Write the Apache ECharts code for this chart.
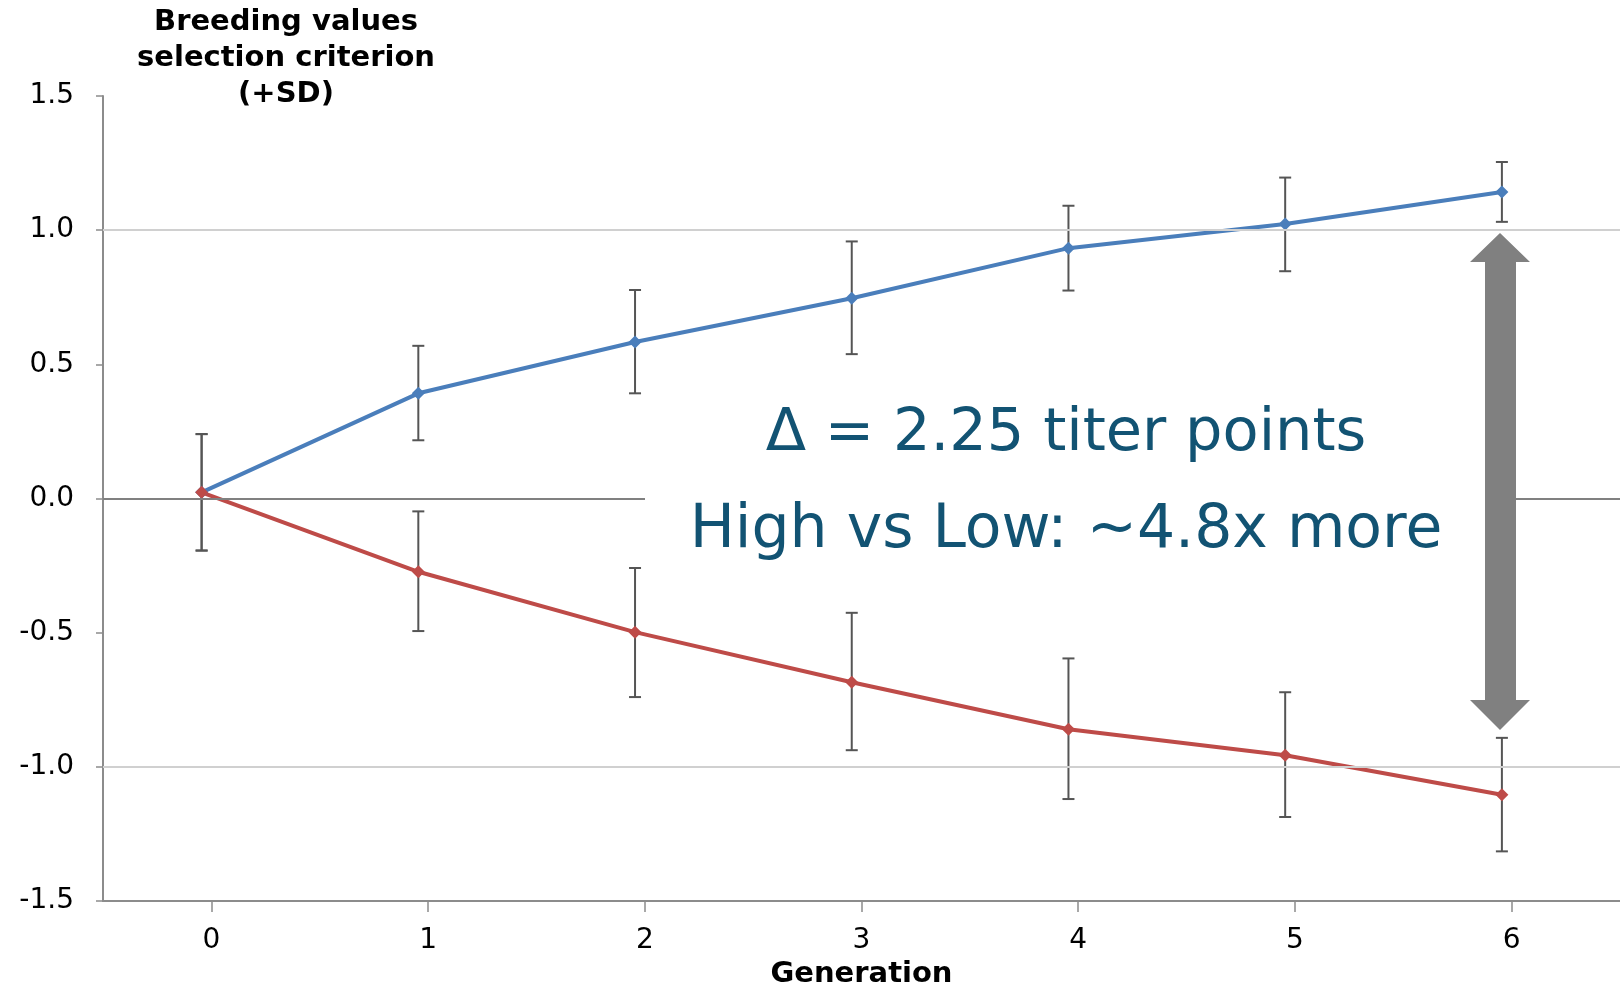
<!DOCTYPE html>
<html>
<head>
<meta charset="utf-8">
<title>Breeding values selection criterion</title>
<script src="https://cdn.jsdelivr.net/npm/echarts@6/dist/echarts.min.js"></script>
<style>
  html, body { margin: 0; padding: 0; background: #fff; }
  #chart { width: 1620px; height: 987px; }
</style>
</head>
<body>
<div id="chart"></div>
<script>
// generations on the axis, and where the points actually sit (a bit left of each tick)
const generations = [0, 1, 2, 3, 4, 5, 6];
const pointX = [-0.045, 0.955, 1.955, 2.955, 3.955, 4.955, 5.955];

// high line (blue): mean, +SD, -SD
const highMean  = [0.023, 0.392, 0.583, 0.746, 0.933, 1.023, 1.142];
const highUpper = [0.240, 0.569, 0.777, 0.958, 1.091, 1.196, 1.254];
const highLower = [-0.194, 0.217, 0.392, 0.538, 0.775, 0.847, 1.031];

// low line (red)
const lowMean  = [0.023, -0.273, -0.498, -0.685, -0.860, -0.957, -1.104];
const lowUpper = [0.240, -0.048, -0.259, -0.426, -0.596, -0.722, -0.892];
const lowLower = [-0.194, -0.494, -0.740, -0.938, -1.120, -1.187, -1.315];

const FONT = 'Verdana, "DejaVu Sans", sans-serif';
const BLUE = '#4a7ebb';
const RED = '#be4b48';
const TEXT_BLUE = '#125373';

const chart = echarts.init(document.getElementById('chart'));

// error bar drawn as a vertical line with caps
function errorBars(name, upper, lower) {
  return {
    name: name,
    type: 'custom',
    z: 1,
    silent: true,
    data: pointX.map((x, i) => [x, lower[i], upper[i]]),
    encode: { x: 0, y: [1, 2] },
    renderItem: function (params, api) {
      const lo = api.coord([api.value(0), api.value(1)]);
      const hi = api.coord([api.value(0), api.value(2)]);
      const cap = 6;
      const style = { stroke: '#555555', lineWidth: 2 };
      return {
        type: 'group',
        children: [
          { type: 'line', shape: { x1: lo[0], y1: lo[1], x2: hi[0], y2: hi[1] }, style: style },
          { type: 'line', shape: { x1: lo[0] - cap, y1: lo[1], x2: lo[0] + cap, y2: lo[1] }, style: style },
          { type: 'line', shape: { x1: hi[0] - cap, y1: hi[1], x2: hi[0] + cap, y2: hi[1] }, style: style }
        ]
      };
    }
  };
}

function lineSeries(name, values, color) {
  return {
    name: name,
    type: 'line',
    z: 3,
    data: pointX.map((x, i) => [x, values[i]]),
    symbol: 'diamond',
    symbolSize: 13,
    showSymbol: true,
    itemStyle: { color: color },
    lineStyle: { color: color, width: 4 }
  };
}

const high = lineSeries('High', highMean, BLUE);
// reference lines at +1, 0, -1
high.markLine = {
  silent: true,
  symbol: 'none',
  label: { show: false },
  data: [
    { yAxis: 1, lineStyle: { color: '#d0d0d0', width: 2, type: 'solid' } },
    { yAxis: -1, lineStyle: { color: '#d0d0d0', width: 2, type: 'solid' } },
    { yAxis: 0, lineStyle: { color: '#808080', width: 2, type: 'solid' } }
  ]
};

chart.setOption({
  animation: false,
  grid: { left: 103, right: 0, top: 96, bottom: 86, outerBoundsMode: 'none' },
  xAxis: {
    type: 'value',
    min: -0.5,
    max: 6.5,
    name: 'Generation',
    nameLocation: 'middle',
    nameGap: 58,
    nameTextStyle: { fontFamily: FONT, fontWeight: 'bold', fontSize: 29, color: '#000' },
    axisLine: { show: true, onZero: false, lineStyle: { color: '#8c8c8c', width: 2 } },
    axisTick: { show: true, length: 11, customValues: generations, lineStyle: { color: '#8c8c8c', width: 1.5 } },
    axisLabel: { customValues: generations, margin: 26, fontFamily: FONT, fontSize: 28, color: '#000' },
    splitLine: { show: false }
  },
  yAxis: {
    type: 'value',
    min: -1.5,
    max: 1.5,
    interval: 0.5,
    axisLine: { show: true, onZero: false, lineStyle: { color: '#8c8c8c', width: 2 } },
    axisTick: { show: true, length: 7, lineStyle: { color: '#8c8c8c', width: 1.5 } },
    axisLabel: {
      margin: 29,
      fontFamily: FONT,
      fontSize: 28,
      color: '#000',
      formatter: v => (Math.abs(v) < 1e-9 ? 0 : v).toFixed(1)
    },
    splitLine: { show: false }
  },
  series: [
    errorBars('High SD', highUpper, highLower),
    errorBars('Low SD', lowUpper, lowLower),
    high,
    lineSeries('Low', lowMean, RED)
  ],
  graphic: [
    {
      type: 'text',
      z: 10,
      style: {
        text: 'Breeding values\nselection criterion\n(+SD)',
        x: 286, y: 4,
        align: 'center', verticalAlign: 'top',
        lineHeight: 36,
        fontFamily: FONT, fontWeight: 'bold', fontSize: 29,
        fill: '#000'
      }
    },
    // text box, white fill hides the zero line behind it
    {
      type: 'rect',
      z: 10,
      shape: { x: 645, y: 372, width: 845, height: 228 },
      style: { fill: '#fff' }
    },
    {
      type: 'text',
      z: 11,
      style: {
        text: 'Δ = 2.25 titer points',
        x: 1066, y: 435,
        align: 'center', verticalAlign: 'middle',
        fontFamily: FONT, fontSize: 59, fill: TEXT_BLUE
      }
    },
    {
      type: 'text',
      z: 11,
      style: {
        text: 'High vs Low: ~4.8x more',
        x: 1066, y: 531,
        align: 'center', verticalAlign: 'middle',
        fontFamily: FONT, fontSize: 60, fill: TEXT_BLUE
      }
    },
    // double-headed arrow between the two lines at generation 6
    {
      type: 'polygon',
      z: 12,
      shape: {
        points: [
          [1500, 233], [1530, 262], [1516, 262], [1516, 700], [1530, 700],
          [1500, 730], [1470, 700], [1485, 700], [1485, 262], [1470, 262]
        ]
      },
      style: { fill: '#808080' }
    }
  ]
});
</script>
</body>
</html>
